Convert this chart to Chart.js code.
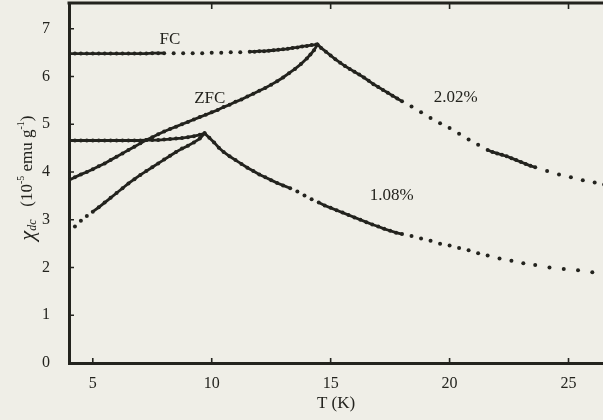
<!DOCTYPE html>
<html>
<head>
<meta charset="utf-8">
<title>chi dc vs T</title>
<script src="https://cdn.jsdelivr.net/npm/chart.js@4.4.1/dist/chart.umd.min.js"></script>
<style>
  html, body { margin: 0; padding: 0; background: #efeee7; }
  #wrap { width: 603px; height: 420px; position: relative; }
</style>
</head>
<body>
<div id="wrap"><canvas id="chi"></canvas></div>
<script>
// 2.02% sample, ZFC branch (runs on past the cusp where FC joins it)
const tZfc202 = [4.0, 4.25, 4.5, 4.75, 5.0, 5.25, 5.5, 5.75, 6.0, 6.25, 6.5, 6.75, 7.0, 7.25, 7.5, 7.75,
  8.0, 8.25, 8.5, 8.75, 9.0, 9.25, 9.5, 9.75, 10.0, 10.25, 10.5, 10.75, 11.0, 11.25, 11.5, 11.75,
  12.0, 12.25, 12.5, 12.75, 13.0, 13.25, 13.5, 13.75, 14.0, 14.15, 14.3, 14.45,
  14.6, 14.8, 15.0, 15.2, 15.4, 15.6, 15.8, 16.0, 16.2, 16.4, 16.6, 16.8, 17.0, 17.2, 17.4, 17.6, 17.8, 18.0,
  18.4, 18.8, 19.2, 19.6, 20.0, 20.4, 20.8, 21.2, 21.6, 21.8, 22.0, 22.2, 22.4, 22.6, 22.8, 23.0, 23.2, 23.4, 23.6,
  24.1, 24.6, 25.1, 25.6, 26.1, 26.5];
const chiZfc202 = [3.83, 3.89, 3.95, 4.0, 4.06, 4.12, 4.18, 4.25, 4.32, 4.39, 4.46, 4.53, 4.6, 4.67, 4.73, 4.79,
  4.85, 4.9, 4.95, 5.0, 5.05, 5.1, 5.15, 5.2, 5.25, 5.3, 5.36, 5.41, 5.47, 5.52, 5.58, 5.64,
  5.7, 5.76, 5.83, 5.9, 5.98, 6.07, 6.16, 6.26, 6.38, 6.46, 6.55, 6.67,
  6.6, 6.52, 6.44, 6.36, 6.29, 6.22, 6.16, 6.1, 6.04, 5.98, 5.91, 5.84, 5.78, 5.72, 5.66, 5.6, 5.54, 5.48,
  5.37, 5.25, 5.13, 5.02, 4.92, 4.8, 4.68, 4.57, 4.46, 4.42, 4.39, 4.36, 4.33, 4.29, 4.25, 4.21, 4.17, 4.13, 4.1,
  4.02, 3.95, 3.89, 3.83, 3.78, 3.74];

// 2.02% sample, FC branch
const tFc202 = [4.0, 4.25, 4.5, 4.75, 5.0, 5.25, 5.5, 5.75, 6.0, 6.25, 6.5, 6.75, 7.0, 7.25, 7.5, 7.75, 8.0,
  8.4, 8.8, 9.2, 9.6, 10.0, 10.4, 10.8, 11.2, 11.6,
  11.8, 12.0, 12.2, 12.4, 12.6, 12.8, 13.0, 13.2, 13.4, 13.6, 13.8, 14.0, 14.2, 14.4];
const chiFc202 = [6.48, 6.48, 6.48, 6.48, 6.48, 6.48, 6.48, 6.48, 6.48, 6.48, 6.48, 6.48, 6.48, 6.48, 6.49, 6.49, 6.49,
  6.49, 6.49, 6.49, 6.49, 6.5, 6.5, 6.51, 6.51, 6.52,
  6.52, 6.53, 6.53, 6.54, 6.55, 6.56, 6.57, 6.58, 6.6, 6.61, 6.63, 6.64, 6.66, 6.67];

// 1.08% sample, ZFC branch
const tZfc108 = [4.0, 4.25, 4.5, 4.75, 5.0, 5.25, 5.5, 5.75, 6.0, 6.25, 6.5, 6.75, 7.0, 7.25, 7.5, 7.75,
  8.0, 8.25, 8.5, 8.75, 9.0, 9.25, 9.5, 9.7,
  9.9, 10.1, 10.3, 10.5, 10.75, 11.0, 11.25, 11.5, 11.75, 12.0, 12.25, 12.5, 12.75, 13.0, 13.3, 13.6, 13.9, 14.2, 14.5,
  14.75, 15.0, 15.25, 15.5, 15.75, 16.0, 16.25, 16.5, 16.75, 17.0, 17.25, 17.5, 17.75, 18.0,
  18.4, 18.8, 19.2, 19.6, 20.0, 20.4, 20.8, 21.2, 21.6, 22.1, 22.6, 23.1, 23.6, 24.2, 24.8, 25.4, 26.0, 26.6];
const chiZfc108 = [2.72, 2.86, 2.98, 3.08, 3.17, 3.26, 3.36, 3.46, 3.56, 3.66, 3.76, 3.85, 3.94, 4.02, 4.1, 4.18,
  4.26, 4.34, 4.42, 4.49, 4.55, 4.62, 4.7, 4.81,
  4.72, 4.62, 4.51, 4.42, 4.33, 4.25, 4.17, 4.09, 4.02, 3.95, 3.89, 3.83, 3.77, 3.72, 3.66, 3.59, 3.51, 3.43, 3.36,
  3.3, 3.25, 3.2, 3.15, 3.1, 3.05, 3.0, 2.95, 2.9, 2.86, 2.81, 2.77, 2.73, 2.7,
  2.66, 2.61, 2.56, 2.5, 2.46, 2.41, 2.36, 2.3, 2.25, 2.19, 2.14, 2.09, 2.05, 2.0, 1.97, 1.94, 1.9, 1.87];

// 1.08% sample, FC branch
const tFc108 = [4.0, 4.25, 4.5, 4.75, 5.0, 5.25, 5.5, 5.75, 6.0, 6.25, 6.5, 6.75, 7.0, 7.25, 7.5, 7.75,
  8.0, 8.25, 8.5, 8.75, 9.0, 9.25, 9.5, 9.7];
const chiFc108 = [4.66, 4.66, 4.66, 4.66, 4.66, 4.66, 4.66, 4.66, 4.66, 4.66, 4.66, 4.66, 4.66, 4.67, 4.67, 4.67,
  4.68, 4.69, 4.7, 4.71, 4.73, 4.75, 4.78, 4.81];

const xTicks = [5, 10, 15, 20, 25];
const xTopTicks = [10, 15, 20, 25];
const yTicks = [0, 1, 2, 3, 4, 5, 6, 7];

const noteText = ['FC', 'ZFC', '2.02%', '1.08%'];
const noteT = [8.24, 9.92, 20.26, 17.57];
const noteChi = [6.78, 5.54, 5.56, 3.51];

const ink = '#23231e';
const serif = '"Liberation Serif", "DejaVu Serif", serif';

function pts(ts, vs) {
  return ts.map((t, i) => ({ x: t, y: vs[i] }));
}

// stretches where the measurement is sparse: show only the dots there
function curve(label, data, gaps) {
  return {
    label,
    data,
    showLine: true,
    borderColor: ink,
    backgroundColor: ink,
    borderWidth: 2.8,
    pointRadius: 2,
    pointBorderWidth: 0,
    tension: 0,
    segment: {
      borderColor: ctx => {
        const a = ctx.p0.parsed.x, b = ctx.p1.parsed.x;
        return gaps.some(g => a >= g[0] && b <= g[1]) ? 'rgba(0,0,0,0)' : ink;
      }
    }
  };
}

const paper = {
  id: 'paper',
  beforeDraw(chart) {
    const c = chart.ctx;
    c.save();
    c.fillStyle = '#efeee7';
    c.fillRect(0, 0, chart.width, chart.height);
    c.restore();
  }
};

// inward tick marks, top frame, curve labels and the rotated y title
const frame = {
  id: 'frame',
  afterDraw(chart) {
    const c = chart.ctx;
    const { left, right, top, bottom } = chart.chartArea;
    const xs = chart.scales.x, ys = chart.scales.y;
    c.save();
    c.strokeStyle = ink;
    c.lineWidth = 3;
    c.beginPath();
    c.moveTo(left - 1.5, top);
    c.lineTo(right, top);
    c.stroke();

    c.lineWidth = 1.6;
    c.beginPath();
    yTicks.filter(v => v > 0).forEach(v => {
      const y = ys.getPixelForValue(v);
      c.moveTo(left, y);
      c.lineTo(left + 5, y);
    });
    xTicks.forEach(v => {
      const x = xs.getPixelForValue(v);
      c.moveTo(x, bottom);
      c.lineTo(x, bottom - 5);
    });
    xTopTicks.forEach(v => {
      const x = xs.getPixelForValue(v);
      c.moveTo(x, top);
      c.lineTo(x, top + 6);
    });
    c.stroke();

    c.fillStyle = ink;
    c.font = '17px ' + serif;
    c.textAlign = 'center';
    c.textBaseline = 'middle';
    noteText.forEach((s, i) => {
      c.fillText(s, xs.getPixelForValue(noteT[i]), ys.getPixelForValue(noteChi[i]));
    });

    // y title: chi_dc (10^-5 emu g^-1)
    const parts = [
      { s: '\u03C7', f: 'italic 22px ' + serif, dy: 0 },
      { s: 'dc', f: 'italic 12px ' + serif, dy: 5 },
      { s: '   (10', f: '17px ' + serif, dy: 0 },
      { s: '-5', f: '10px ' + serif, dy: -7 },
      { s: ' emu g', f: '17px ' + serif, dy: 0 },
      { s: '-1', f: '10px ' + serif, dy: -7 },
      { s: ')', f: '17px ' + serif, dy: 0 }
    ];
    let total = 0;
    parts.forEach(p => { c.font = p.f; p.w = c.measureText(p.s).width; total += p.w; });
    c.translate(28, 178);
    c.rotate(-Math.PI / 2);
    c.textAlign = 'left';
    let x = -total / 2;
    parts.forEach(p => {
      c.font = p.f;
      c.fillText(p.s, x, p.dy);
      x += p.w;
    });
    c.restore();
  }
};

new Chart(document.getElementById('chi'), {
  type: 'scatter',
  data: {
    datasets: [
      curve('2.02% ZFC', pts(tZfc202, chiZfc202), [[18.0, 21.6], [23.6, 27]]),
      curve('2.02% FC', pts(tFc202, chiFc202), [[8.0, 11.6]]),
      curve('1.08% ZFC', pts(tZfc108, chiZfc108), [[4.0, 5.0], [13.3, 14.5], [18.0, 27]]),
      curve('1.08% FC', pts(tFc108, chiFc108), [])
    ]
  },
  options: {
    responsive: true,
    maintainAspectRatio: false,
    animation: false,
    layout: { autoPadding: false, padding: { top: 3, right: 0, left: 0, bottom: 0 } },
    plugins: { legend: { display: false }, tooltip: { enabled: false } },
    scales: {
      x: {
        type: 'linear',
        min: 4,
        max: 26.45,
        afterBuildTicks: s => { s.ticks = xTicks.map(v => ({ value: v })); },
        afterFit: s => { s.height = 57; s.paddingLeft = 0; s.paddingRight = 0; },
        grid: { display: false },
        border: { display: true, color: ink, width: 3 },
        ticks: { color: ink, font: { family: serif, size: 16 }, padding: 3, maxRotation: 0 },
        title: {
          display: true,
          text: 'T (K)',
          color: ink,
          font: { family: serif, size: 17 },
          padding: { top: 0, bottom: 6 }
        }
      },
      y: {
        min: 0,
        max: 7.54,
        afterBuildTicks: s => { s.ticks = yTicks.map(v => ({ value: v })); },
        afterFit: s => { s.width = 69; s.paddingTop = 0; s.paddingBottom = 0; },
        grid: { display: false },
        border: { display: true, color: ink, width: 3 },
        ticks: { color: ink, font: { family: serif, size: 16 }, padding: 11 }
      }
    }
  },
  plugins: [paper, frame]
});
</script>
</body>
</html>
